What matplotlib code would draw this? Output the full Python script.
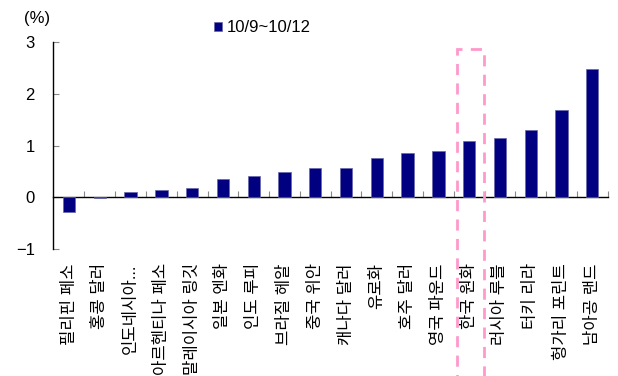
"""
주요국 통화 절상률 (10/9~10/12) 막대 차트
"""

import matplotlib
matplotlib.use('Agg')
import matplotlib.pyplot as plt
from matplotlib.patches import Rectangle

# 숫자는 Arial 계열, 한글은 Noto CJK 로 대체
plt.rcParams['font.family'] = ['Liberation Sans', 'Noto Sans CJK KR']
plt.rcParams['axes.unicode_minus'] = True

# 데이터
currencies = ['필리핀 페소', '홍콩 달러', '인도네시아...', '아르헨티나 페소',
              '말레이시아 링깃', '일본 엔화', '인도 루피', '브라질 헤알',
              '중국 위안', '캐나다 달러', '유로화', '호주 달러', '영국 파운드',
              '한국 원화', '러시아 루블', '터키 리라', '헝가리 포린트', '남아공 랜드']
change = [-0.28, -0.02, 0.10, 0.15, 0.19, 0.35, 0.42, 0.48, 0.56,
          0.57, 0.75, 0.85, 0.90, 1.08, 1.14, 1.30, 1.68, 2.48]
series_name = '10/9~10/12'
highlight = '한국 원화'
yticks = [-1, 0, 1, 2, 3]

bar_color = '#000080'
pink = '#FF99CC'

fig = plt.figure(figsize=(6.18, 3.76), dpi=100)
ax = fig.add_axes([0.0858, 0.337, 0.898, 0.552])

x = list(range(len(currencies)))
ax.bar(x, change, width=0.4, color=bar_color, edgecolor='#6666AA',
       linewidth=0.5, label=series_name, zorder=3)

ax.set_xlim(-0.52, len(currencies) - 0.49)
ax.set_ylim(-1, 3)
ax.set_yticks(yticks)
ax.set_yticklabels([f'{v}' if v >= 0 else f'\u2212{abs(v)}' for v in yticks])
ax.tick_params(axis='y', direction='in', length=4, width=0.8, color='#888888',
               labelsize=12, pad=13)

# 0 선에 붙은 x축, 사이 눈금만
for s in ['top', 'right']:
    ax.spines[s].set_visible(False)
ax.spines['bottom'].set_position(('data', 0))
ax.spines['bottom'].set_linewidth(1.0)
ax.spines['left'].set_linewidth(1.0)
ax.set_xticks(x)
ax.set_xticklabels([])
ax.tick_params(axis='x', which='major', length=0)
ax.set_xticks([i + 0.5 for i in x], minor=True)
ax.tick_params(axis='x', which='minor', direction='in', length=4, width=0.8,
               color='#888888')

# 통화 이름은 축 아래쪽
sec = ax.secondary_xaxis(0.0)
sec.set_xticks(x)
sec.set_xticklabels(currencies, rotation=90, fontsize=12)
sec.tick_params(length=0, pad=10)
sec.spines['bottom'].set_visible(False)

# 한국 원화 강조 박스
k = currencies.index(highlight)
rect = Rectangle((k - 0.39, -3.7), 0.88, 2.86 + 3.7, fill=False,
                 edgecolor=pink, linewidth=2.0, linestyle=(0, (4, 3)),
                 clip_on=False, zorder=4)
ax.add_patch(rect)

fig.text(0.039, 0.952, '(%)', fontsize=12, va='center', ha='left')

fig.legend(loc='center left', bbox_to_anchor=(0.332, 0.926), frameon=False,
           handlelength=0.5, handleheight=0.5, handletextpad=0.3,
           borderpad=0, fontsize=12)

fig.savefig('out.png', dpi=100)
